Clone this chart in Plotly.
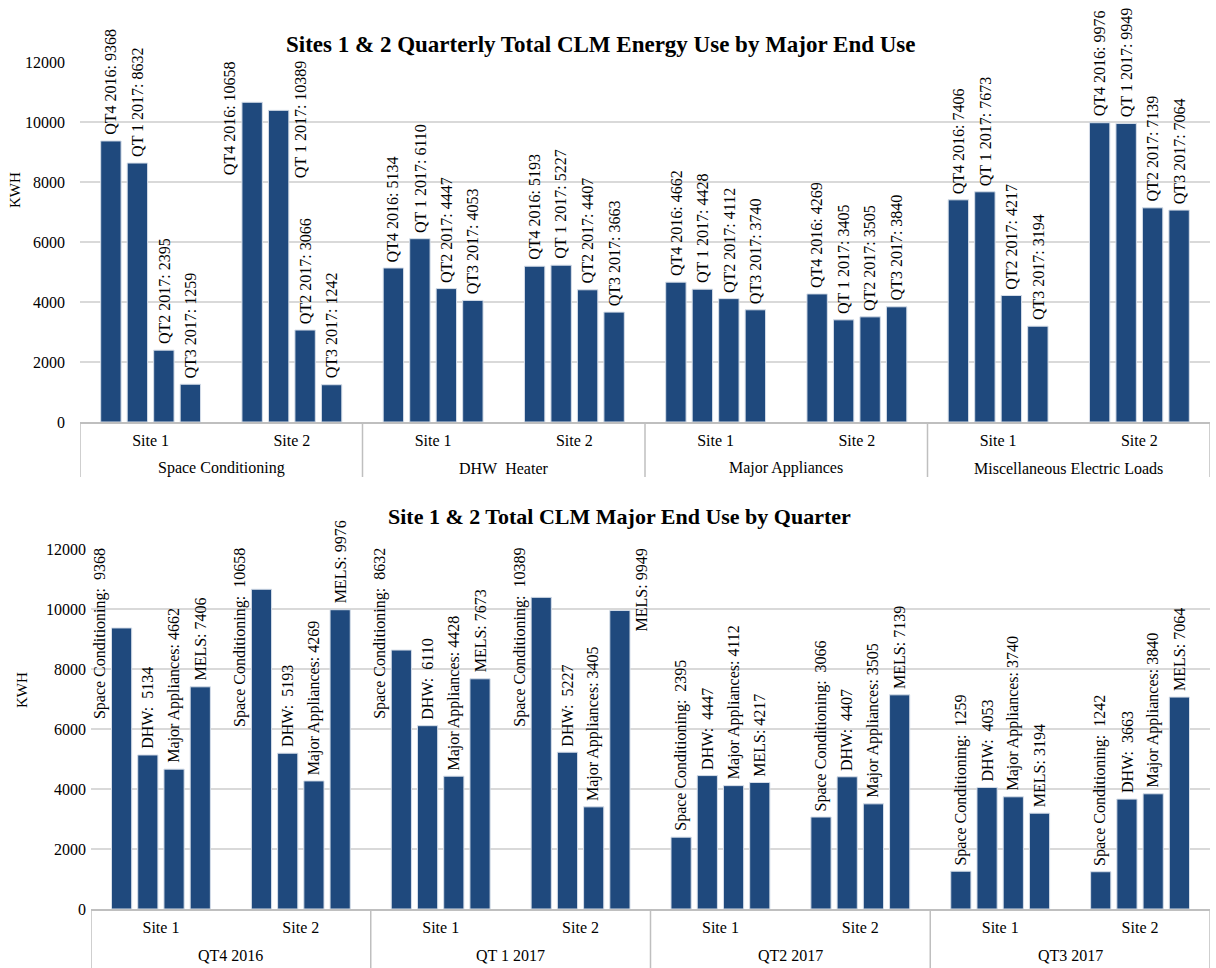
import plotly.graph_objects as go

# ---- data (kWh per quarter) ----
quarters = ["QT4 2016", "QT 1 2017", "QT2 2017", "QT3 2017"]
sites = ["Site 1", "Site 2"]
end_uses = ["Space Conditioning", "DHW\u00a0 Heater", "Major Appliances", "Miscellaneous Electric Loads"]
end_use_labels = ["Space Conditioning:\u00a0 ", "DHW:\u00a0 ", "Major Appliances: ", "MELS: "]

space_conditioning_site1 = [9368, 8632, 2395, 1259]
space_conditioning_site2 = [10658, 10389, 3066, 1242]
dhw_site1 = [5134, 6110, 4447, 4053]
dhw_site2 = [5193, 5227, 4407, 3663]
appliances_site1 = [4662, 4428, 4112, 3740]
appliances_site2 = [4269, 3405, 3505, 3840]
mels_site1 = [7406, 7673, 4217, 3194]
mels_site2 = [9976, 9949, 7139, 7064]

usage = [
    [space_conditioning_site1, space_conditioning_site2],
    [dhw_site1, dhw_site2],
    [appliances_site1, appliances_site2],
    [mels_site1, mels_site2],
]

# labels too long to sit above their bar hang beside it from the top of the axis
top_beside = {(0, 1, 0): -1, (0, 1, 1): 1}            # (end use, site, quarter) -> side
bottom_beside = {(0, 0, 0): -1, (0, 1, 0): -1, (1, 0, 0): -1,
                 (1, 1, 0): -1, (1, 1, 3): 1}         # (quarter, site, end use) -> side

# ---- styling ----
FONT = "Liberation Serif"
BAR = "#1f497d"
EDGE = "#d6dee9"
GRID = "#d9d9d9"
AXIS = "#bfbfbf"
BARGAP = 0.25
GROUPGAP = 0.23
N_IN_GROUP = 4
W, H = 1216, 968
LABEL_SIZE = 16


def slot_offset(i):
    slot = (1 - BARGAP) / N_IN_GROUP
    return -(1 - BARGAP) / 2 + (i + 0.5) * slot


def py(px):
    """paper y from a pixel row measured from the top of the page"""
    return 1 - px / H


fig = go.Figure()
annotations = []
shapes = []


def add_panel(outer_names, traces, xref, yref, beside, axis_px, divider_end_px):
    """outer_names: top-level categories; traces: list of (name, label prefix, values)"""
    keys = [f"{o}|{s}" for o in outer_names for s in sites]
    for t, (name, prefix, yv) in enumerate(traces):
        fig.add_trace(go.Bar(x=keys, y=yv, name=name,
                             marker=dict(color=BAR, line=dict(color=EDGE, width=1)),
                             xaxis=xref, yaxis=yref, showlegend=False))
        for k, v in enumerate(yv):
            o, s = divmod(k, 2)
            side = beside.get((o, s, t))
            ann = dict(x=k + slot_offset(t), y=v, xref=xref, yref=yref,
                       text=f"{prefix}{v}", textangle=-90, showarrow=False,
                       font=dict(family=FONT, size=LABEL_SIZE, color="#000"))
            if side is None:
                ann.update(yanchor="bottom", yshift=4)
            else:
                ann.update(y=12000, yanchor="top", yshift=3, xshift=22 * side)
            annotations.append(ann)
    # outer category row and the dividers that box it
    for o, oname in enumerate(outer_names):
        annotations.append(dict(x=2 * o + 0.5, y=py(axis_px + 46), xref=xref, yref="paper",
                                text=oname, showarrow=False, yanchor="middle",
                                font=dict(family=FONT, size=16, color="#000")))
    for b in range(len(outer_names) + 1):
        shapes.append(dict(type="line", xref=xref, yref="paper",
                           x0=2 * b - 0.5, x1=2 * b - 0.5,
                           y0=py(axis_px), y1=py(divider_end_px),
                           line=dict(color=AXIS, width=1.5)))
    return keys


# top chart: end use > site, one trace per quarter
top_traces = [(qn, f"{qn}: ", [usage[e][s][q] for e in range(4) for s in range(2)])
              for q, qn in enumerate(quarters)]
top_keys = add_panel(end_uses, top_traces, "x", "y", top_beside, 422, 477)

# bottom chart: quarter > site, one trace per end use
bot_traces = [(end_uses[e], end_use_labels[e], [usage[e][s][q] for q in range(4) for s in range(2)])
              for e in range(4)]
bot_keys = add_panel(quarters, bot_traces, "x2", "y2", bottom_beside, 909, 968)

# ---- titles ----
annotations.append(dict(text="<b>Sites 1 &amp; 2 Quarterly Total CLM Energy Use by Major End Use</b>",
                        x=601 / W, y=py(30), xref="paper", yref="paper", xanchor="center",
                        showarrow=False, font=dict(family=FONT, size=23, color="#000")))
annotations.append(dict(text="<b>Site 1 &amp; 2 Total CLM Major End Use by Quarter</b>",
                        x=620 / W, y=py(516), xref="paper", yref="paper", xanchor="center",
                        showarrow=False, font=dict(family=FONT, size=22, color="#000")))
for xpx, ypx in [(15, 190), (22, 690)]:
    annotations.append(dict(text="KWH", x=xpx / W, y=py(ypx), xref="paper", yref="paper",
                            xanchor="center", yanchor="middle",
                            textangle=-90, showarrow=False,
                            font=dict(family=FONT, size=15, color="#000")))


def xaxis_cfg(keys, left_px):
    return dict(type="category", categoryorder="array", categoryarray=keys,
                tickvals=keys, ticktext=[k.split("|")[1] for k in keys],
                range=[-0.5, len(keys) - 0.5],
                domain=[left_px / W, 1210 / W],
                showline=True, linecolor=AXIS, linewidth=1.5, ticks="",
                showgrid=False, zeroline=False, automargin=False,
                ticklabelstandoff=3,
                tickfont=dict(family=FONT, size=16, color="#000"))


yaxis_common = dict(range=[0, 12000], dtick=2000, tickformat="d", showgrid=True,
                    gridcolor=GRID, gridwidth=1.5, zeroline=False, showline=False,
                    ticks="", automargin=False,
                    tickfont=dict(family=FONT, size=16, color="#000"))

fig.update_layout(
    width=W, height=H,
    margin=dict(l=0, r=0, t=0, b=0, autoexpand=False),
    paper_bgcolor="white", plot_bgcolor="white",
    barmode="group", bargap=BARGAP, bargroupgap=GROUPGAP,
    font=dict(family=FONT, size=16, color="#000"),
    xaxis=dict(anchor="y", **xaxis_cfg(top_keys, 80)),
    yaxis=dict(domain=[py(422), py(62)], anchor="x", ticklabelstandoff=14, **yaxis_common),
    xaxis2=dict(anchor="y2", **xaxis_cfg(bot_keys, 91)),
    yaxis2=dict(domain=[py(909), py(549)], anchor="x2", ticklabelstandoff=4, **yaxis_common),
    annotations=annotations,
    shapes=shapes,
)

fig.write_html("out.html")
